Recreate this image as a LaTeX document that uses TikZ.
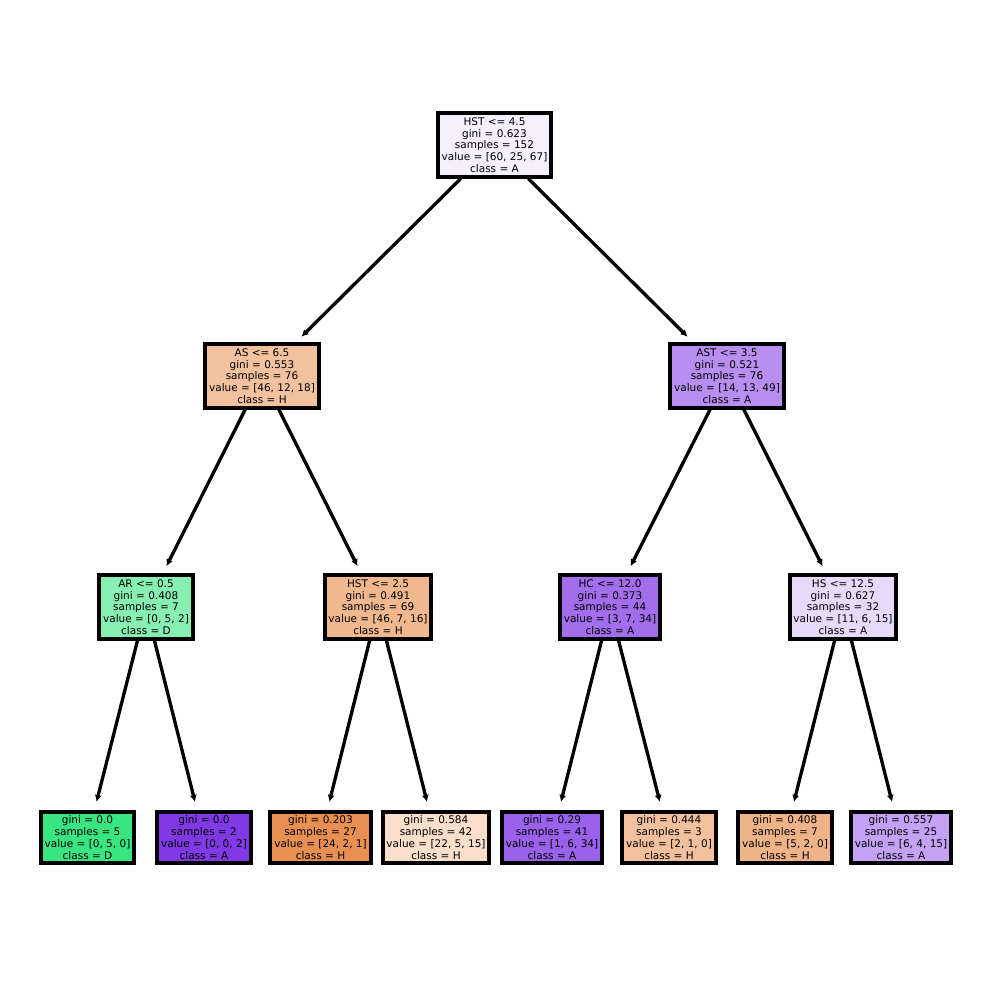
\documentclass[tikz,border=0pt]{standalone}
\usepackage{fontspec}
\setmainfont{DejaVu Sans}
\usetikzlibrary{arrows.meta}
\definecolor{cRoot}{HTML}{F5F0FD}
\definecolor{cAS}{HTML}{F2C29F}
\definecolor{cAST}{HTML}{B88FF0}
\definecolor{cAR}{HTML}{88EFB3}
\definecolor{cHSTb}{HTML}{F0B88F}
\definecolor{cHC}{HTML}{A36EEC}
\definecolor{cHS}{HTML}{E7D9FA}
\definecolor{cLa}{HTML}{39E581}
\definecolor{cLb}{HTML}{8139E5}
\definecolor{cLc}{HTML}{E89051}
\definecolor{cLd}{HTML}{F8DECB}
\definecolor{cLe}{HTML}{9A61EA}
\definecolor{cLf}{HTML}{F2C09C}
\definecolor{cLg}{HTML}{EFB388}
\definecolor{cLh}{HTML}{C3A1F3}
\tikzset{
  treebox/.style={draw=black, line width=4pt, align=center, inner xsep=3.8pt, inner ysep=4pt,
    font=\fontsize{10.5}{11.8}\selectfont},
  treeedge/.style={line width=3.3pt, -{Latex[length=7pt,width=7pt]}, shorten >=8pt}
}
\begin{document}
\begin{tikzpicture}[x=1pt,y=-1pt]
\useasboundingbox (0,0) rectangle (990,984);
\node[treebox, fill=cRoot] (root) at (494.5,145) {HST <= 4.5\\gini = 0.623\\samples = 152\\value = [60, 25, 67]\\class = A};
\node[treebox, fill=cAS] (as) at (262,376) {AS <= 6.5\\gini = 0.553\\samples = 76\\value = [46, 12, 18]\\class = H};
\node[treebox, fill=cAST] (ast) at (727,376) {AST <= 3.5\\gini = 0.521\\samples = 76\\value = [14, 13, 49]\\class = A};
\node[treebox, fill=cAR] (ar) at (146,607) {AR <= 0.5\\gini = 0.408\\samples = 7\\value = [0, 5, 2]\\class = D};
\node[treebox, fill=cHSTb] (hst) at (378,607) {HST <= 2.5\\gini = 0.491\\samples = 69\\value = [46, 7, 16]\\class = H};
\node[treebox, fill=cHC] (hc) at (610,607) {HC <= 12.0\\gini = 0.373\\samples = 44\\value = [3, 7, 34]\\class = A};
\node[treebox, fill=cHS] (hs) at (843,607) {HS <= 12.5\\gini = 0.627\\samples = 32\\value = [11, 6, 15]\\class = A};
\node[treebox, fill=cLa] (l1) at (87.5,837.5) {gini = 0.0\\samples = 5\\value = [0, 5, 0]\\class = D};
\node[treebox, fill=cLb] (l2) at (204,837.5) {gini = 0.0\\samples = 2\\value = [0, 0, 2]\\class = A};
\node[treebox, fill=cLc] (l3) at (320.5,837.5) {gini = 0.203\\samples = 27\\value = [24, 2, 1]\\class = H};
\node[treebox, fill=cLd] (l4) at (436,837.5) {gini = 0.584\\samples = 42\\value = [22, 5, 15]\\class = H};
\node[treebox, fill=cLe] (l5) at (552,837.5) {gini = 0.29\\samples = 41\\value = [1, 6, 34]\\class = A};
\node[treebox, fill=cLf] (l6) at (669,837.5) {gini = 0.444\\samples = 3\\value = [2, 1, 0]\\class = H};
\node[treebox, fill=cLg] (l7) at (785,837.5) {gini = 0.408\\samples = 7\\value = [5, 2, 0]\\class = H};
\node[treebox, fill=cLh] (l8) at (901,837.5) {gini = 0.557\\samples = 25\\value = [6, 4, 15]\\class = A};
\draw[treeedge] (root) -- (as);
\draw[treeedge] (root) -- (ast);
\draw[treeedge] (as) -- (ar);
\draw[treeedge] (as) -- (hst);
\draw[treeedge] (ast) -- (hc);
\draw[treeedge] (ast) -- (hs);
\draw[treeedge] (ar) -- (l1);
\draw[treeedge] (ar) -- (l2);
\draw[treeedge] (hst) -- (l3);
\draw[treeedge] (hst) -- (l4);
\draw[treeedge] (hc) -- (l5);
\draw[treeedge] (hc) -- (l6);
\draw[treeedge] (hs) -- (l7);
\draw[treeedge] (hs) -- (l8);
\end{tikzpicture}
\end{document}
